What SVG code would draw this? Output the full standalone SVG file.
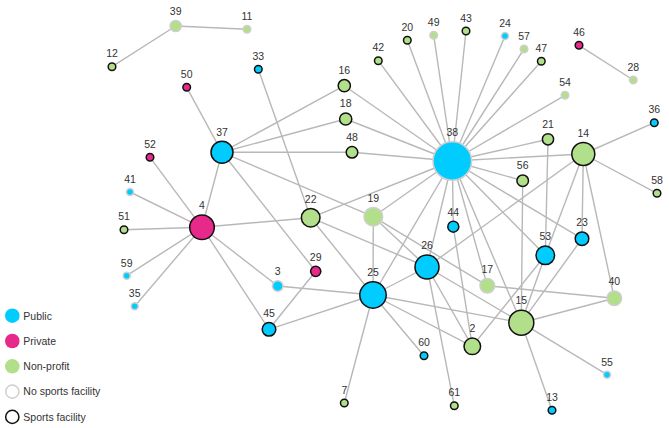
<svg xmlns="http://www.w3.org/2000/svg" width="669" height="428" viewBox="0 0 669 428">
<style>
.e{stroke:#b8b8b8;stroke-width:1.4;fill:none}
.pub{fill:#00ccff}.pri{fill:#e7298a}.non{fill:#b2df8a}
.sf{stroke:#111;stroke-width:1.5}.nf{stroke:#cfcfcf;stroke-width:1.5}
text{font-family:"Liberation Sans",Arial,sans-serif;font-size:10.5px;fill:#333}
.n text{text-anchor:middle}
</style>
<rect width="669" height="428" fill="#fff"/>
<g id="connectors">
<line class="e" x1="175.7" y1="26" x2="112" y2="66.7"/>
<line class="e" x1="175.7" y1="26" x2="247" y2="29.3"/>
<line class="e" x1="579" y1="45.3" x2="633.3" y2="80"/>
<line class="e" x1="654.3" y1="122.7" x2="583.3" y2="154"/>
<line class="e" x1="186.7" y1="87.3" x2="222" y2="152.3"/>
<line class="e" x1="258.3" y1="69.3" x2="310.7" y2="217.7"/>
<line class="e" x1="222" y1="152.3" x2="202" y2="227.3"/>
<line class="e" x1="222" y1="152.3" x2="344.3" y2="85.7"/>
<line class="e" x1="222" y1="152.3" x2="345.7" y2="119"/>
<line class="e" x1="222" y1="152.3" x2="352" y2="152.3"/>
<line class="e" x1="222" y1="152.3" x2="373.3" y2="216.7"/>
<line class="e" x1="222" y1="152.3" x2="315.7" y2="271.3"/>
<line class="e" x1="150" y1="157.3" x2="202" y2="227.3"/>
<line class="e" x1="130" y1="192" x2="202" y2="227.3"/>
<line class="e" x1="124" y1="229.7" x2="202" y2="227.3"/>
<line class="e" x1="126.7" y1="275.7" x2="202" y2="227.3"/>
<line class="e" x1="134.7" y1="306.3" x2="202" y2="227.3"/>
<line class="e" x1="202" y1="227.3" x2="310.7" y2="217.7"/>
<line class="e" x1="202" y1="227.3" x2="277.7" y2="286"/>
<line class="e" x1="202" y1="227.3" x2="269" y2="329.3"/>
<line class="e" x1="452.3" y1="161" x2="378.3" y2="60.7"/>
<line class="e" x1="452.3" y1="161" x2="407.3" y2="40.3"/>
<line class="e" x1="452.3" y1="161" x2="433.7" y2="35.3"/>
<line class="e" x1="452.3" y1="161" x2="466" y2="31"/>
<line class="e" x1="452.3" y1="161" x2="505" y2="36"/>
<line class="e" x1="452.3" y1="161" x2="524" y2="49"/>
<line class="e" x1="452.3" y1="161" x2="541.3" y2="61.3"/>
<line class="e" x1="452.3" y1="161" x2="565" y2="95.3"/>
<line class="e" x1="452.3" y1="161" x2="344.3" y2="85.7"/>
<line class="e" x1="452.3" y1="161" x2="345.7" y2="119"/>
<line class="e" x1="452.3" y1="161" x2="352" y2="152.3"/>
<line class="e" x1="452.3" y1="161" x2="548" y2="139.3"/>
<line class="e" x1="452.3" y1="161" x2="583.3" y2="154"/>
<line class="e" x1="452.3" y1="161" x2="522.7" y2="180.7"/>
<line class="e" x1="452.3" y1="161" x2="545.3" y2="255.3"/>
<line class="e" x1="452.3" y1="161" x2="582" y2="238.7"/>
<line class="e" x1="452.3" y1="161" x2="521.3" y2="322.7"/>
<line class="e" x1="452.3" y1="161" x2="487.3" y2="285.7"/>
<line class="e" x1="452.3" y1="161" x2="453.3" y2="226.7"/>
<line class="e" x1="452.3" y1="161" x2="427" y2="267"/>
<line class="e" x1="452.3" y1="161" x2="373" y2="295"/>
<line class="e" x1="452.3" y1="161" x2="373.3" y2="216.7"/>
<line class="e" x1="452.3" y1="161" x2="310.7" y2="217.7"/>
<line class="e" x1="583.3" y1="154" x2="657" y2="193.3"/>
<line class="e" x1="583.3" y1="154" x2="427" y2="267"/>
<line class="e" x1="583.3" y1="154" x2="545.3" y2="255.3"/>
<line class="e" x1="583.3" y1="154" x2="582" y2="238.7"/>
<line class="e" x1="583.3" y1="154" x2="614.3" y2="298.3"/>
<line class="e" x1="548" y1="139.3" x2="545.3" y2="255.3"/>
<line class="e" x1="522.7" y1="180.7" x2="521.3" y2="322.7"/>
<line class="e" x1="545.3" y1="255.3" x2="521.3" y2="322.7"/>
<line class="e" x1="545.3" y1="255.3" x2="472.3" y2="346.3"/>
<line class="e" x1="582" y1="238.7" x2="521.3" y2="322.7"/>
<line class="e" x1="614.3" y1="298.3" x2="487.3" y2="285.7"/>
<line class="e" x1="614.3" y1="298.3" x2="521.3" y2="322.7"/>
<line class="e" x1="521.3" y1="322.7" x2="607" y2="374.7"/>
<line class="e" x1="521.3" y1="322.7" x2="552" y2="410.3"/>
<line class="e" x1="521.3" y1="322.7" x2="373" y2="295"/>
<line class="e" x1="521.3" y1="322.7" x2="427" y2="267"/>
<line class="e" x1="427" y1="267" x2="373" y2="295"/>
<line class="e" x1="427" y1="267" x2="373.3" y2="216.7"/>
<line class="e" x1="427" y1="267" x2="310.7" y2="217.7"/>
<line class="e" x1="427" y1="267" x2="472.3" y2="346.3"/>
<line class="e" x1="427" y1="267" x2="454.3" y2="405.7"/>
<line class="e" x1="453.3" y1="226.7" x2="472.3" y2="346.3"/>
<line class="e" x1="472.3" y1="346.3" x2="373" y2="295"/>
<line class="e" x1="373.3" y1="216.7" x2="373" y2="295"/>
<line class="e" x1="373.3" y1="216.7" x2="487.3" y2="285.7"/>
<line class="e" x1="310.7" y1="217.7" x2="373" y2="295"/>
<line class="e" x1="277.7" y1="286" x2="373" y2="295"/>
<line class="e" x1="269" y1="329.3" x2="373" y2="295"/>
<line class="e" x1="315.7" y1="271.3" x2="269" y2="329.3"/>
<line class="e" x1="373" y1="295" x2="344.3" y2="403"/>
<line class="e" x1="373" y1="295" x2="424" y2="355.7"/>
</g>
<g class="n">
<g id="n38"><circle class="pub nf" cx="452.3" cy="161" r="19.3"/><text x="452.3" y="136">38</text></g>
<g id="n4"><circle class="pri sf" cx="202" cy="227.3" r="12.3"/><text x="202" y="209.3">4</text></g>
<g id="n25"><circle class="pub sf" cx="373" cy="295" r="13.2"/><text x="373" y="276">25</text></g>
<g id="n15"><circle class="non sf" cx="521.3" cy="322.7" r="12.5"/><text x="521.3" y="304.4">15</text></g>
<g id="n26"><circle class="pub sf" cx="427" cy="267" r="12"/><text x="427" y="249.3">26</text></g>
<g id="n14"><circle class="non sf" cx="583.3" cy="154" r="11.5"/><text x="583.3" y="136.7">14</text></g>
<g id="n37"><circle class="pub sf" cx="222" cy="152.3" r="11"/><text x="222" y="135.6">37</text></g>
<g id="n22"><circle class="non sf" cx="310.7" cy="217.7" r="9.3"/><text x="310.7" y="202.7">22</text></g>
<g id="n19"><circle class="non nf" cx="373.3" cy="216.7" r="9.3"/><text x="373.3" y="201.7">19</text></g>
<g id="n53"><circle class="pub sf" cx="545.3" cy="255.3" r="9.3"/><text x="545.3" y="240.3">53</text></g>
<g id="n2"><circle class="non sf" cx="472.3" cy="346.3" r="8.3"/><text x="472.3" y="332.3">2</text></g>
<g id="n17"><circle class="non nf" cx="487.3" cy="285.7" r="7.3"/><text x="487.3" y="272.7">17</text></g>
<g id="n40"><circle class="non nf" cx="614.3" cy="298.3" r="7.3"/><text x="614.3" y="285.3">40</text></g>
<g id="n16"><circle class="non sf" cx="344.3" cy="85.7" r="6.1"/><text x="344.3" y="73.9">16</text></g>
<g id="n18"><circle class="non sf" cx="345.7" cy="119" r="6.1"/><text x="345.7" y="107.2">18</text></g>
<g id="n23"><circle class="pub sf" cx="582" cy="238.7" r="6.8"/><text x="582" y="226.2">23</text></g>
<g id="n45"><circle class="pub sf" cx="269" cy="329.3" r="6.8"/><text x="269" y="316.8">45</text></g>
<g id="n48"><circle class="non sf" cx="352" cy="152.3" r="5.8"/><text x="352" y="140.8">48</text></g>
<g id="n56"><circle class="non sf" cx="522.7" cy="180.7" r="5.8"/><text x="522.7" y="169.2">56</text></g>
<g id="n44"><circle class="pub sf" cx="453.3" cy="226.7" r="5.5"/><text x="453.3" y="215.5">44</text></g>
<g id="n21"><circle class="non sf" cx="548" cy="139.3" r="5.6"/><text x="548" y="128">21</text></g>
<g id="n39"><circle class="non nf" cx="175.7" cy="26" r="5.6"/><text x="175.7" y="14.7">39</text></g>
<g id="n3"><circle class="pub nf" cx="277.7" cy="286" r="5.3"/><text x="277.7" y="275">3</text></g>
<g id="n29"><circle class="pri sf" cx="315.7" cy="271.3" r="5.1"/><text x="315.7" y="260.5">29</text></g>
<g id="n12"><circle class="non sf" cx="112" cy="66.7" r="3.8"/><text x="112" y="57.2">12</text></g>
<g id="n33"><circle class="pub sf" cx="258.3" cy="69.3" r="3.8"/><text x="258.3" y="59.8">33</text></g>
<g id="n50"><circle class="pri sf" cx="186.7" cy="87.3" r="3.8"/><text x="186.7" y="77.8">50</text></g>
<g id="n52"><circle class="pri sf" cx="150" cy="157.3" r="3.8"/><text x="150" y="147.8">52</text></g>
<g id="n51"><circle class="non sf" cx="124" cy="229.7" r="3.8"/><text x="124" y="220.2">51</text></g>
<g id="n42"><circle class="non sf" cx="378.3" cy="60.7" r="3.8"/><text x="378.3" y="51.2">42</text></g>
<g id="n20"><circle class="non sf" cx="407.3" cy="40.3" r="3.8"/><text x="407.3" y="30.8">20</text></g>
<g id="n43"><circle class="non sf" cx="466" cy="31" r="3.8"/><text x="466" y="21.5">43</text></g>
<g id="n47"><circle class="non sf" cx="541.3" cy="61.3" r="3.8"/><text x="541.3" y="51.8">47</text></g>
<g id="n46"><circle class="pri sf" cx="579" cy="45.3" r="3.8"/><text x="579" y="35.8">46</text></g>
<g id="n36"><circle class="pub sf" cx="654.3" cy="122.7" r="3.8"/><text x="654.3" y="113.2">36</text></g>
<g id="n58"><circle class="non sf" cx="657" cy="193.3" r="3.8"/><text x="657" y="183.8">58</text></g>
<g id="n60"><circle class="pub sf" cx="424" cy="355.7" r="3.8"/><text x="424" y="346.2">60</text></g>
<g id="n7"><circle class="non sf" cx="344.3" cy="403" r="3.8"/><text x="344.3" y="393.5">7</text></g>
<g id="n61"><circle class="non sf" cx="454.3" cy="405.7" r="3.8"/><text x="454.3" y="396.2">61</text></g>
<g id="n13"><circle class="pub sf" cx="552" cy="410.3" r="3.8"/><text x="552" y="400.8">13</text></g>
<g id="n11"><circle class="non nf" cx="247" cy="29.3" r="3.8"/><text x="247" y="19.8">11</text></g>
<g id="n49"><circle class="non nf" cx="433.7" cy="35.3" r="3.8"/><text x="433.7" y="25.8">49</text></g>
<g id="n57"><circle class="non nf" cx="524" cy="49" r="3.8"/><text x="524" y="39.5">57</text></g>
<g id="n54"><circle class="non nf" cx="565" cy="95.3" r="3.8"/><text x="565" y="85.8">54</text></g>
<g id="n28"><circle class="non nf" cx="633.3" cy="80" r="3.8"/><text x="633.3" y="70.5">28</text></g>
<g id="n41"><circle class="pub nf" cx="130" cy="192" r="3.5"/><text x="130" y="182.8">41</text></g>
<g id="n59"><circle class="pub nf" cx="126.7" cy="275.7" r="3.5"/><text x="126.7" y="266.5">59</text></g>
<g id="n35"><circle class="pub nf" cx="134.7" cy="306.3" r="3.5"/><text x="134.7" y="297.1">35</text></g>
<g id="n24"><circle class="pub nf" cx="505" cy="36" r="3.5"/><text x="505" y="26.8">24</text></g>
<g id="n55"><circle class="pub nf" cx="607" cy="374.7" r="3.5"/><text x="607" y="365.5">55</text></g>
</g>
<g id="legend">
<circle class="pub" cx="12.3" cy="315.7" r="7.3"/><text x="23.3" y="319.5">Public</text>
<circle class="pri" cx="12.3" cy="341" r="7.3"/><text x="23.3" y="344.8">Private</text>
<circle class="non" cx="12.3" cy="366.3" r="7.3"/><text x="23.3" y="370.1">Non-profit</text>
<circle fill="#fff" class="nf" cx="12.3" cy="391.6" r="6.6"/><text x="23.3" y="395.4">No sports facility</text>
<circle fill="#fff" class="sf" cx="12.3" cy="416.9" r="6.6"/><text x="23.3" y="420.7">Sports facility</text>
</g>
</svg>
